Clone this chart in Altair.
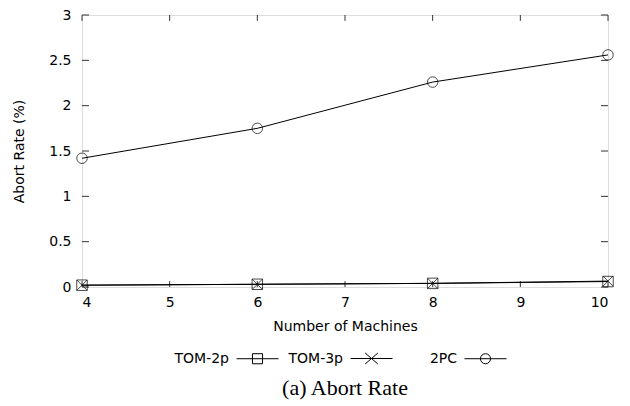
import altair as alt
import pandas as pd

machines = [4, 6, 8, 10]
series_names = ["TOM-2p", "TOM-3p", "2PC"]
tom2p = [0.02, 0.03, 0.04, 0.06]
tom3p = [0.02, 0.03, 0.04, 0.065]
twopc = [1.42, 1.75, 2.26, 2.56]

x_ticks = [4, 5, 6, 7, 8, 9, 10]
y_ticks = [0, 0.5, 1, 1.5, 2, 2.5, 3]

rows = []
for name, vals in zip(series_names, [tom2p, tom3p, twopc]):
    for m, v in zip(machines, vals):
        rows.append({"series": name, "machines": m, "rate": v})
df = pd.DataFrame(rows)

X_DOM = [4, 10]
Y_DOM = [0, 3]
xs = alt.Scale(domain=X_DOM, nice=False, zero=False)
ys = alt.Scale(domain=Y_DOM, nice=False, zero=False)

FONT = "DejaVu Sans"

xaxis = alt.Axis(values=x_ticks, ticks=False, domain=False, grid=False, format="~g",
                 labelFont=FONT, labelFontSize=14, labelPadding=8, labelColor="black",
                 title="Number of Machines", titleFont=FONT, titleFontSize=14,
                 titleFontWeight="normal", titlePadding=10, titleColor="black")
yaxis = alt.Axis(values=y_ticks, ticks=False, domain=False, grid=False, format="~g",
                 labelFont=FONT, labelFontSize=14, labelPadding=11, labelColor="black",
                 title="Abort Rate (%)", titleFont=FONT, titleFontSize=14,
                 titleFontWeight="normal", titlePadding=22, titleColor="black")

# inward tick marks (gnuplot style), built from tick values through the scales
XT = 0.065
YT = 0.08
xt_rows = []
for v in x_ticks:
    xt_rows.append({"x": v, "y": Y_DOM[0], "y2": Y_DOM[0] + XT})
    xt_rows.append({"x": v, "y": Y_DOM[1] - XT, "y2": Y_DOM[1]})
yt_rows = []
for v in y_ticks:
    yt_rows.append({"y": v, "x": X_DOM[0], "x2": X_DOM[0] + YT})
    yt_rows.append({"y": v, "x": X_DOM[1] - YT, "x2": X_DOM[1]})

TICK_COLOR = "#333333"
xticks_layer = alt.Chart(pd.DataFrame(xt_rows)).mark_rule(color=TICK_COLOR, strokeWidth=1).encode(
    x=alt.X("x:Q", scale=xs, axis=xaxis),
    y=alt.Y("y:Q", scale=ys, axis=yaxis),
    y2="y2:Q",
)
yticks_layer = alt.Chart(pd.DataFrame(yt_rows)).mark_rule(color=TICK_COLOR, strokeWidth=1).encode(
    x=alt.X("x:Q", scale=xs),
    x2="x2:Q",
    y=alt.Y("y:Q", scale=ys),
)

plot_shapes = ["square", "M-1,-1L1,1M-1,1L1,-1", "circle"]
# legend samples: a leading move-to reserves a fixed-width label column (gnuplot key layout)
legend_shapes = [
    "M-4,0M-1,0H1M-0.24,-0.24H0.24V0.24H-0.24Z",
    "M-4,0M-1,0H1M-0.3,-0.26L0.3,0.26M-0.3,0.26L0.3,-0.26",
    "M-4,0M-1,0H1M0.24,0A0.24,0.24,0,1,1,-0.24,0A0.24,0.24,0,1,1,0.24,0",
]

base = alt.Chart(df)
lines = base.mark_line(color="black", strokeWidth=1).encode(
    x=alt.X("machines:Q", scale=xs),
    y=alt.Y("rate:Q", scale=ys),
    detail="series:N",
)
points = base.mark_point(filled=False, color="black", strokeWidth=1, size=110).encode(
    x=alt.X("machines:Q", scale=xs),
    y=alt.Y("rate:Q", scale=ys),
    shape=alt.Shape("series:N", scale=alt.Scale(domain=series_names, range=plot_shapes), legend=None),
)

LEG_W = 42
legend_layer = base.transform_filter("false").mark_point(
    filled=False, color="black", strokeWidth=1, size=LEG_W * LEG_W
).encode(
    x=alt.X("machines:Q", scale=xs),
    y=alt.Y("rate:Q", scale=ys),
    shape=alt.Shape(
        "series:N",
        scale=alt.Scale(domain=series_names, range=legend_shapes),
        legend=alt.Legend(
            title=None, orient="none", direction="horizontal",
            legendX=154, legendY=322,
            labelFont=FONT, labelFontSize=14, labelColor="black",
            labelAlign="right", labelOffset={"expr": str(-(LEG_W + 8))},
            symbolSize=LEG_W * LEG_W, symbolStrokeColor="black", symbolFillColor="transparent",
            symbolStrokeWidth=1, symbolOpacity=1,
            columnPadding=4,
        ),
    ),
)

chart = alt.layer(xticks_layer, yticks_layer, lines, points, legend_layer).resolve_scale(
    shape="independent"
).properties(
    width=526, height=272,
    autosize=alt.AutoSizeParams(type="none"),
    padding={"left": 74, "top": 7, "right": 14, "bottom": 115},
    title=alt.TitleParams("(a) Abort Rate", orient="bottom", anchor="middle",
                          font="Liberation Serif", fontSize=22, fontWeight="normal",
                          color="black", offset=12),
).configure_view(stroke="black", strokeWidth=1).configure(background="white")

chart.save("out.html", embed_options={"renderer": "svg", "actions": False})
